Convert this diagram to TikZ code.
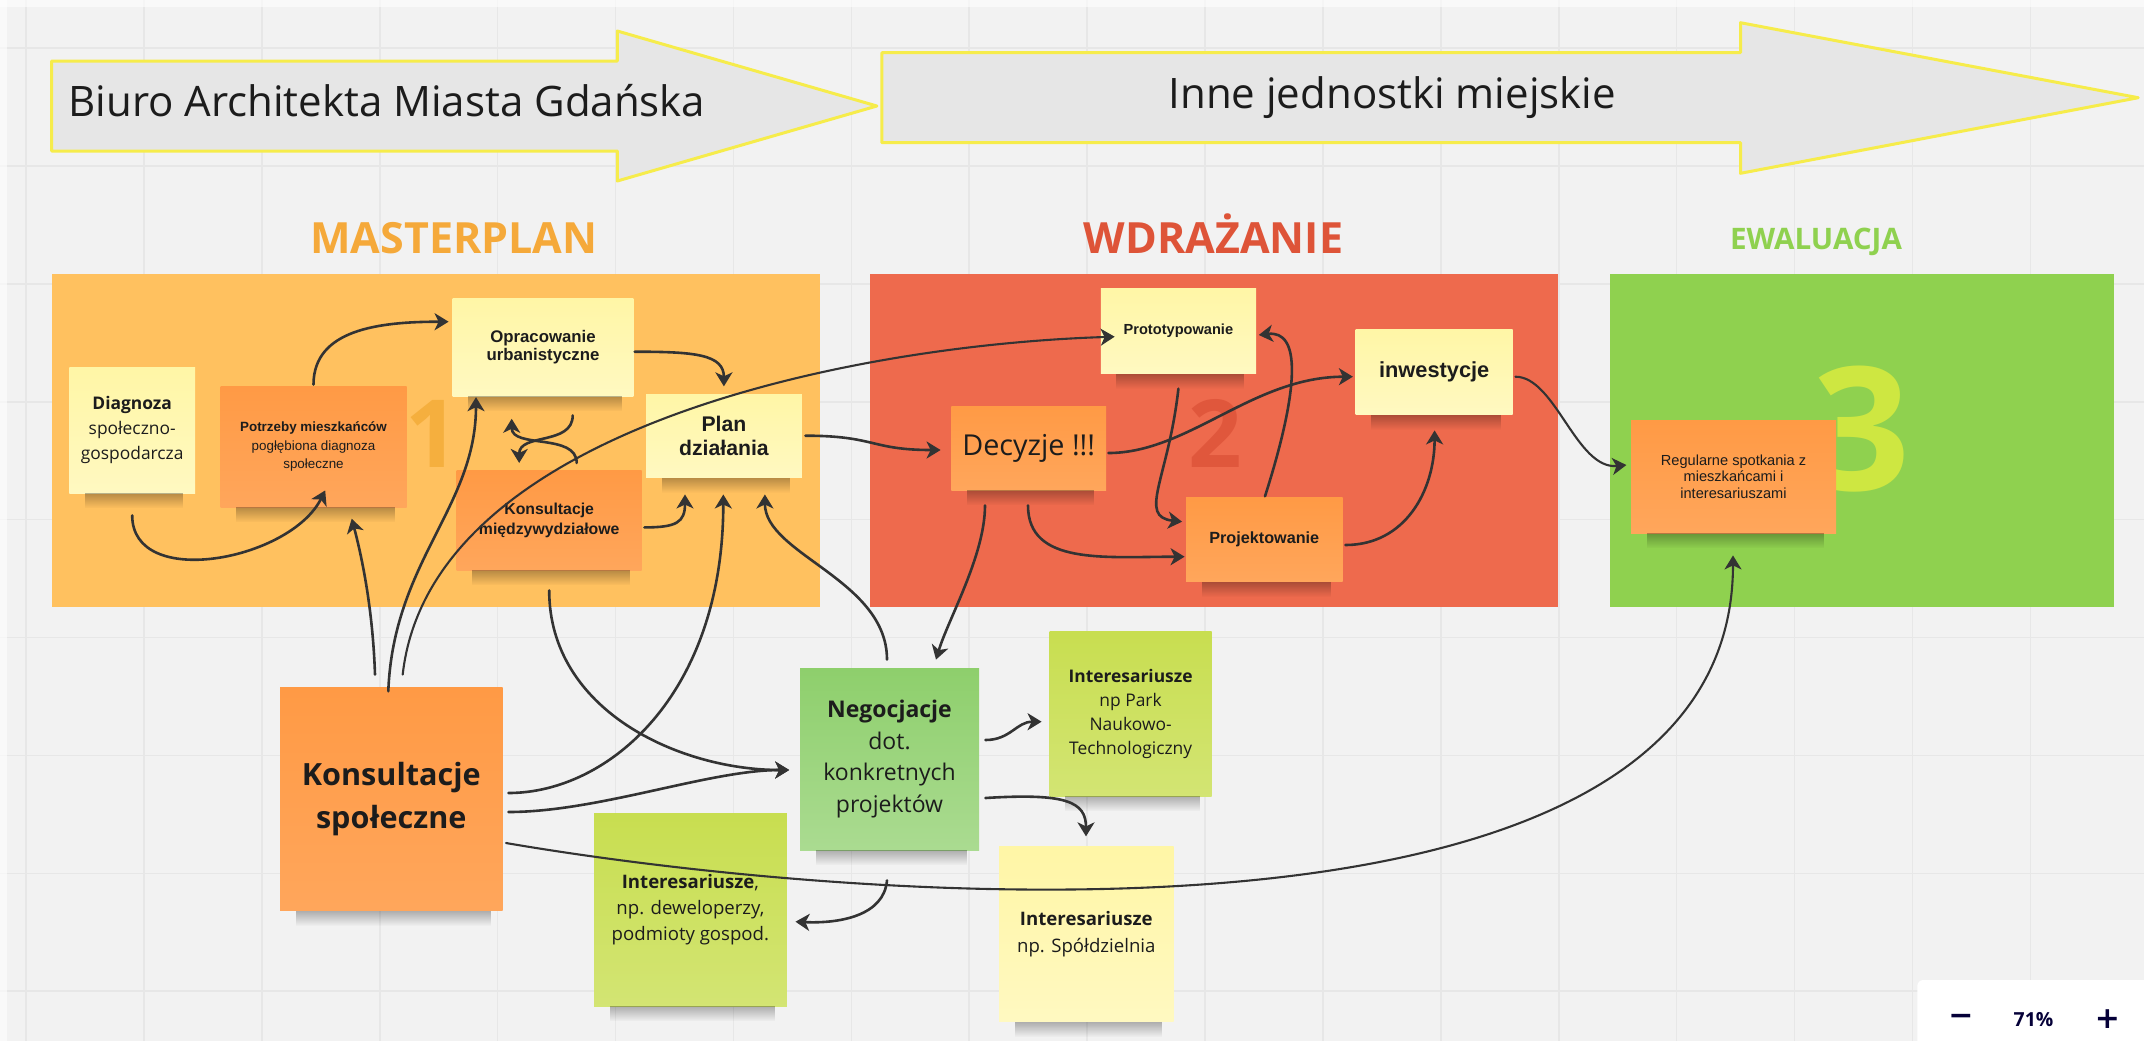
\documentclass[tikz,border=0pt]{standalone}
\usepackage{fontspec}
\setmainfont{Open Sans}
\newfontfamily\arialfont{Liberation Sans}
\newfontfamily\dejavufont{DejaVu Sans}
\usetikzlibrary{arrows.meta}
\usetikzlibrary{calc}
\usetikzlibrary{fadings}

\definecolor{canvas}{HTML}{F2F2F2}
\definecolor{gridline}{HTML}{E7E7E7}
\definecolor{bannerfill}{HTML}{E6E6E6}
\definecolor{bannerline}{HTML}{F6EC4B}
\definecolor{mpanel}{HTML}{FFC15F}
\definecolor{wpanel}{HTML}{EE6A4D}
\definecolor{epanel}{HTML}{8FD14F}
\definecolor{mtitle}{HTML}{F5A93A}
\definecolor{wtitle}{HTML}{DE5438}
\definecolor{etitle}{HTML}{8FD14F}
\definecolor{mdigit}{HTML}{F5AF3E}
\definecolor{wdigit}{HTML}{E0573C}
\definecolor{edigit}{HTML}{CEE741}
\definecolor{stickyyel}{HTML}{FFF6A6}
\definecolor{stickyorg}{HTML}{FF9A45}
\definecolor{stickylime}{HTML}{C8DE50}
\definecolor{stickygreen}{HTML}{8ECF6C}
\definecolor{wirecol}{HTML}{333333}
\definecolor{inkdark}{HTML}{1C1C1C}
\definecolor{navy}{HTML}{050038}

\tikzfading[name=notedrop, top color=transparent!0, bottom color=transparent!100]

\tikzset{
  banner/.style={fill=bannerfill, draw=bannerline, line width=1.5pt, line join=round},
  bannertext/.style={inner sep=0pt, text=inkdark, font=\fontsize{21}{25}\selectfont},
  phase/.style={anchor=base, inner sep=0pt, font=\bfseries\fontsize{21.5}{24}\selectfont},
  panel/.style={inner sep=0pt, minimum height=166.5pt},
  bigdigit/.style={anchor=base, inner sep=0pt, font=\bfseries\fontsize{47}{47}\selectfont},
  sticky/.style={inner sep=0pt, align=center, text=inkdark},
  yellowsticky/.style={sticky, top color=stickyyel, bottom color=stickyyel!70!white},
  orangesticky/.style={sticky, top color=stickyorg, bottom color=stickyorg!88!white},
  limesticky/.style={sticky, top color=stickylime, bottom color=stickylime!80!white},
  greensticky/.style={sticky, top color=stickygreen, bottom color=stickygreen!75!white},
  wire/.style={draw=wirecol, line width=1.3pt, line cap=round, -{Stealth[length=7pt,width=8.5pt,inset=2pt]}},
  longwire/.style={wire, line width=1.05pt}
}

\begin{document}
\begin{tikzpicture}[x=0.5pt,y=-0.5pt]
\useasboundingbox (0,0) rectangle (2144,1041);
\fill[canvas] (0,0) rectangle (2144,1041);
\foreach \i in {0,...,18}
  \draw[gridline, line width=0.8pt] ({26+117.9*\i},0) -- ++(0,1041);
\foreach \j in {0,...,8}
  \draw[gridline, line width=0.8pt] (0,{48+117.9*\j}) -- ++(2144,0);
\fill[white, opacity=0.6] (0,0) rectangle (2144,7);
\fill[white, opacity=0.6] (0,0) rectangle (7,1041);

\draw[banner] (51.7,61) -- (617.3,61) -- (617.3,31) -- (876.9,106) -- (617.3,181) -- (617.3,151) -- (51.7,151) -- cycle;
\node[bannertext, anchor=base west] (biuro) at (68,116.7) {Biuro Architekta Miasta Gdańska};
\draw[banner] (881.8,52.7) -- (1740.5,52.7) -- (1740.5,22.7) -- (2138.2,97.7) -- (1740.5,173.3) -- (1740.5,142.7) -- (881.8,142.7) -- cycle;
\node[bannertext, anchor=base] (inne) at (1392.3,108.3) {Inne jednostki miejskie};

\node[phase, text=mtitle] (mastertitle) at (454,253) {MASTERPLAN};
\node[phase, text=wtitle] (wdrtitle) at (1213.5,253.3) {WDRAŻANIE};
\node[phase, text=etitle, font=\bfseries\fontsize{14.8}{16}\selectfont] (ewtitle) at (1816,249.3) {EWALUACJA};

\node[panel, fill=mpanel, minimum width=383.9pt] (masterpanel) at (435.6,440.5) {};
\node[panel, fill=wpanel, minimum width=344pt] (wdrpanel) at (1214,440.5) {};
\node[panel, fill=epanel, minimum width=252.25pt] (ewpanel) at (1861.75,440.5) {};

\node[bigdigit, text=mdigit] (one) at (432,467) {1};
\node[bigdigit, text=wdigit] (two) at (1215,467) {2};
\node[bigdigit, text=edigit, font=\bfseries\fontsize{86}{86}\selectfont] (three) at (1862,490) {3};

\node[yellowsticky, minimum width=62.8pt, minimum height=63pt, font=\fontsize{8.7}{12.5}\selectfont] (diag) at (132.2,430) {\textbf{Diagnoza}\\społeczno-\\gospodarcza};
\node[orangesticky, minimum width=93pt, minimum height=60.5pt, font=\arialfont\fontsize{6.7}{9.2}\selectfont] (potrz) at (313.5,446.5) {\textbf{Potrzeby mieszkańców}\\pogłębiona diagnoza\\społeczne};
\node[yellowsticky, minimum width=90.3pt, minimum height=48.85pt, font=\arialfont\bfseries\fontsize{8.4}{8.8}\selectfont] (oprac) at (543,347.2) {Opracowanie\\urbanistyczne};
\node[yellowsticky, minimum width=77.85pt, minimum height=41.65pt, font=\arialfont\bfseries\fontsize{10.6}{12}\selectfont] (plan) at (723.9,435.7) {Plan\\działania};
\node[orangesticky, minimum width=92.5pt, minimum height=49.65pt, font=\arialfont\bfseries\fontsize{7.9}{10}\selectfont] (konsm) at (549.2,520.4) {Konsultacje\\międzywydziałowe};
\node[yellowsticky, minimum width=77.65pt, minimum height=42.5pt, font=\arialfont\bfseries\fontsize{7.3}{9}\selectfont] (proto) at (1178.4,330.8) {Prototypowanie};
\node[yellowsticky, minimum width=78.5pt, minimum height=42.5pt, font=\arialfont\bfseries\fontsize{10.9}{12}\selectfont] (inwest) at (1434.2,371.8) {inwestycje};
\node[orangesticky, minimum width=77.3pt, minimum height=42pt, font=\fontsize{14.4}{16}\selectfont] (decyz) at (1028.7,448) {Decyzje !!!};
\node[orangesticky, minimum width=78.3pt, minimum height=42pt, font=\arialfont\bfseries\fontsize{8.1}{10}\selectfont] (projekt) at (1264.3,539.7) {Projektowanie};
\node[orangesticky, minimum width=102.5pt, minimum height=56.5pt, font=\arialfont\fontsize{7.3}{8.3}\selectfont] (regul) at (1733.5,476.5) {Regularne spotkania z\\mieszkańcami i\\interesariuszami};
\node[orangesticky, minimum width=111.3pt, minimum height=111.35pt, font=\bfseries\fontsize{15.3}{21.5}\selectfont] (konss) at (391.3,799.3) {Konsultacje\\społeczne};
\node[greensticky, minimum width=89.5pt, minimum height=91pt, font=\fontsize{11.5}{15.8}\selectfont] (negoc) at (889.5,759) {\textbf{Negocjacje}\\dot.\\konkretnych\\projektów};
\node[limesticky, minimum width=81pt, minimum height=82.5pt, font=\fontsize{8.7}{12}\selectfont] (park) at (1130.6,713.5) {\textbf{Interesariusze}\\np Park\\Naukowo-\\Technologiczny};
\node[yellowsticky, minimum width=87.3pt, minimum height=87.85pt, font=\fontsize{9.3}{13.3}\selectfont] (spold) at (1086.3,933.9) {\textbf{Interesariusze}\\np. Spółdzielnia};
\node[limesticky, minimum width=96.35pt, minimum height=96.5pt, font=\fontsize{9.3}{13}\selectfont] (dewel) at (690.4,909.5) {\textbf{Interesariusze},\\np. deweloperzy,\\podmioty gospod.};

\foreach \n in {diag,potrz,oprac,plan,konsm,proto,inwest,decyz,projekt,regul,konss,negoc,park,spold,dewel}
  \fill[black, fill opacity=0.28, path fading=notedrop] ($(\n.south west)+(16,0)$) rectangle ($(\n.south east)+(-12,15)$);

\draw[wire] ($(diag.south)+(0,22)$) .. controls +(0,75) and +(-35,70) .. ($(potrz.south)+(11.7,-17)$);
\draw[wire] ($(potrz.north)+(0,-1)$) .. controls +(0,-55) and +(-70,0) .. ($(oprac.west)+(-3.7,-25.5)$);
\draw[wire] ($(oprac.east)+(1,4.5)$) .. controls +(60,0) and +(0,-32) .. ($(plan.north)+(0,-7.3)$);
\draw[wire] ($(oprac.south)+(29.7,19)$) .. controls +(0,30) and +(0,-30) .. ($(konsm.north)+(-30,-7.4)$);
\draw[wire] ($(konsm.north)+(27.5,-7.4)$) .. controls +(0,-30) and +(0,30) .. ($(oprac.south)+(-31.3,22.3)$);
\draw[wire] ($(konsm.east)+(2.3,7)$) .. controls +(32,0) and +(0,28) .. ($(plan.south)+(-38.9,16.7)$);
\draw[wire] ($(konss.east)+(5.4,-6.3)$) .. controls +(100,0) and +(0,200) .. ($(plan.south)+(-0.6,16.7)$);
\draw[wire] ($(konss.east)+(5.4,12.7)$) .. controls +(90,0) and +(-80,0) .. ($(negoc.west)+(-10.4,11)$);
\draw[wire] ($(konsm.south)+(0,20)$) .. controls +(0,120) and +(-110,0) .. ($(negoc.west)+(-10.4,11)$);
\draw[wire] ($(negoc.north)+(-2.5,-8)$) .. controls +(0,-80) and +(0,60) .. ($(plan.south)+(41,16.7)$);
\draw[wire] ($(konss.north)+(-16.3,-13)$) .. controls +(-2,-60) and +(12,45) .. ($(potrz.south)+(38.2,11.3)$);
\draw[wire] ($(konss.north)+(-3,3.7)$) .. controls +(5,-130) and +(0,110) .. ($(oprac.south)+(-67,0.7)$);
\draw[longwire] ($(konss.north)+(11.4,-13)$) .. controls +(27.3,-245) and +(-265,8.3) .. ($(proto.west)+(14.3,5.9)$);
\draw[wire] ($(plan.east)+(3.3,0)$) .. controls +(70,0) and +(-70,0) .. ($(decyz.west)+(-10.4,2)$);
\draw[wire] ($(decyz.south)+(-43.7,15)$) .. controls +(0,50) and +(12,-40) .. ($(negoc.north)+(46.5,-8)$);
\draw[wire] ($(decyz.south)+(-0.7,15)$) .. controls +(0,60) and +(-80,0) .. ($(projekt.west)+(-1,17)$);
\draw[wire] ($(decyz.east)+(2,5)$) .. controls +(80,0) and +(-100,0) .. ($(inwest.west)+(-2.4,4.9)$);
\draw[wire] ($(proto.south)+(0,15)$) .. controls +(-10,90) and +(-45,-5) .. ($(projekt.west)+(-3.5,-18)$);
\draw[wire] ($(projekt.north)+(0.7,-1)$) .. controls +(35,-110) and +(42,-5) .. ($(proto.east)+(2.3,4.2)$);
\draw[wire] ($(projekt.east)+(2.4,5.3)$) .. controls +(60,0) and +(0,60) .. ($(inwest.south)+(0.4,15.7)$);
\draw[longwire] ($(inwest.east)+(2.3,4.9)$) .. controls +(40,0) and +(-50,5) .. ($(regul.west)+(-4.2,-11.5)$);
\draw[longwire] ($(konss.east)+(3,43.7)$) .. controls +(350,60) and +(0,420) .. ($(regul.south)+(-0.5,22)$);
\draw[wire] ($(negoc.east)+(6,-19)$) .. controls +(25,0) and +(-25,0) .. ($(park.west)+(-7.6,8.2)$);
\draw[wire] ($(negoc.east)+(6,39)$) .. controls +(80,-5) and +(0,-35) .. ($(spold.north)+(-0.3,-9.3)$);
\draw[wire] ($(negoc.south)+(-2.5,30)$) .. controls +(-3,35) and +(45,2) .. ($(dewel.east)+(8.3,12.2)$);

\fill[white] (2144,1041) -- (1917.3,1041) [rounded corners=3pt] -- (1917.3,980) [sharp corners] -- (2144,980) -- cycle;
\node[text=navy, font=\dejavufont\bfseries\fontsize{15}{15}\selectfont] (zoomout) at (1961,1019.5) {−};
\node[text=navy, font=\bfseries\fontsize{9.7}{11}\selectfont] (zoompct) at (2033.5,1020) {71\%};
\node[text=navy, font=\dejavufont\bfseries\fontsize{15}{15}\selectfont] (zoomin) at (2107.5,1019.5) {+};
\end{tikzpicture}
\end{document}
